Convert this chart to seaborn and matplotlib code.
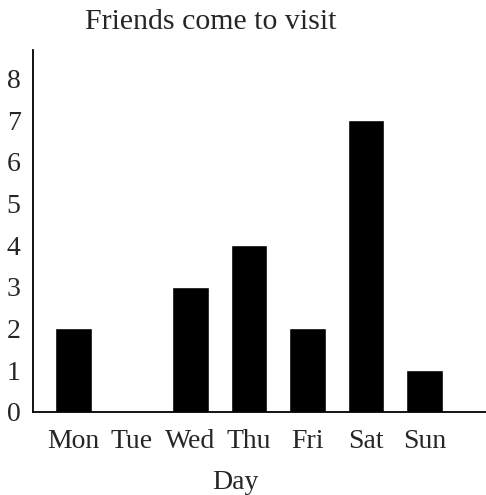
import matplotlib
matplotlib.use("Agg")
import matplotlib.pyplot as plt
import pandas as pd
import seaborn as sns

days = ["Mon", "Tue", "Wed", "Thu", "Fri", "Sat", "Sun"]
visits = [2, 0, 3, 4, 2, 7, 1]
y_ticks = [0, 1, 2, 3, 4, 5, 6, 7, 8]

df = pd.DataFrame({"Day": days, "Visits": visits})

sns.set_style("white")
plt.rcParams['font.family'] = ['Liberation Serif', 'DejaVu Serif']

fig = plt.figure(figsize=(4.86, 4.95), dpi=100)
ax = fig.add_axes([0.068, 0.168, 0.932, 0.731])

sns.barplot(data=df, x="Day", y="Visits", color="black", width=0.63,
            saturation=1, ax=ax)

ax.set_xlim(-0.69, 7.05)
ax.set_ylim(0, 8.68)
ax.set_yticks(y_ticks)
ax.set_yticklabels([str(t) for t in y_ticks], fontsize=20)
ax.set_xticks(range(len(days)))
ax.set_xticklabels(days, fontsize=20)
ax.tick_params(axis="x", length=0, pad=12)
ax.tick_params(axis="y", length=0, pad=9)
ax.set_xlabel("Day", fontsize=20, labelpad=12, x=0.446)
ax.set_ylabel("")

for side in ["top", "right"]:
    ax.spines[side].set_visible(False)
for side in ["left", "bottom"]:
    ax.spines[side].set_color("black")
    ax.spines[side].set_linewidth(1.3)

fig.text(0.434, 0.955, "Friends come to visit", ha="center", va="center",
         fontsize=21.5)

fig.savefig("out.png", dpi=100)
